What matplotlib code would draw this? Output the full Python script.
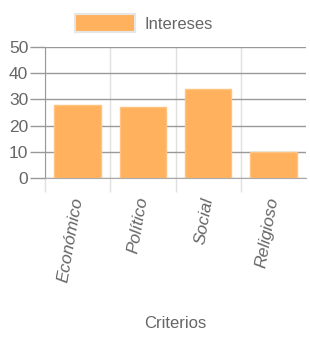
import numpy as np
import matplotlib.pyplot as plt
from matplotlib.patches import Patch

categorias = ["Económico", "Político", "Social", "Religioso"]
intereses = [28, 27, 34, 10]
y_ticks = [0, 10, 20, 30, 40, 50]

plt.rcParams['font.family'] = ['Liberation Sans', 'DejaVu Sans']

fig = plt.figure(figsize=(3.1, 3.4), dpi=100)
ax = fig.add_axes([45 / 310, 1 - 178 / 340, 261 / 310, 131 / 340])

x = np.arange(len(categorias))
ax.bar(x, intereses, width=0.71, color='#FFB15E', edgecolor='#FFC27F', linewidth=1, zorder=3)

ax.set_xlim(-0.5, len(categorias) - 0.5)
ax.set_ylim(0, 50)

ax.set_yticks(y_ticks)
ax.set_yticklabels([str(v) for v in y_ticks], fontsize=12.5, color='#666666')
ax.tick_params(axis='y', length=11, width=1, color='#999999', pad=1)
ax.yaxis.grid(True, color='#999999', linewidth=1, zorder=0)

# category boundaries as minor ticks with light grid
ax.set_xticks(np.arange(-0.5, len(categorias) - 0.5, 1), minor=True)
ax.tick_params(axis='x', which='minor', length=10, width=1, color='#e0e0e0')
ax.xaxis.grid(True, which='minor', color='#e0e0e0', linewidth=1, zorder=0)
ax.set_xticks(x)
ax.set_xticklabels(categorias, rotation=80, rotation_mode='anchor', ha='right', va='center',
                   fontsize=12.5, color='#666666', style='italic')
ax.tick_params(axis='x', which='major', length=0, pad=14)

for s in ['top', 'right']:
    ax.spines[s].set_visible(False)
ax.spines['left'].set_color('#999999')
ax.spines['bottom'].set_color('#aaaaaa')

fig.text(175 / 310, 1 - 323 / 340, "Criterios", fontsize=12, color='#666666',
         ha='center', va='center')

handle = Patch(facecolor='#FFB15E', edgecolor='#e6e6e6', linewidth=1.5)
fig.legend([handle], ["Intereses"], loc='center', bbox_to_anchor=(144 / 310, 1 - 23 / 340),
           frameon=False, fontsize=12, labelcolor='#666666', handlelength=3.6, handleheight=1.3,
           handletextpad=0.55)

fig.savefig('out.png', dpi=100)
